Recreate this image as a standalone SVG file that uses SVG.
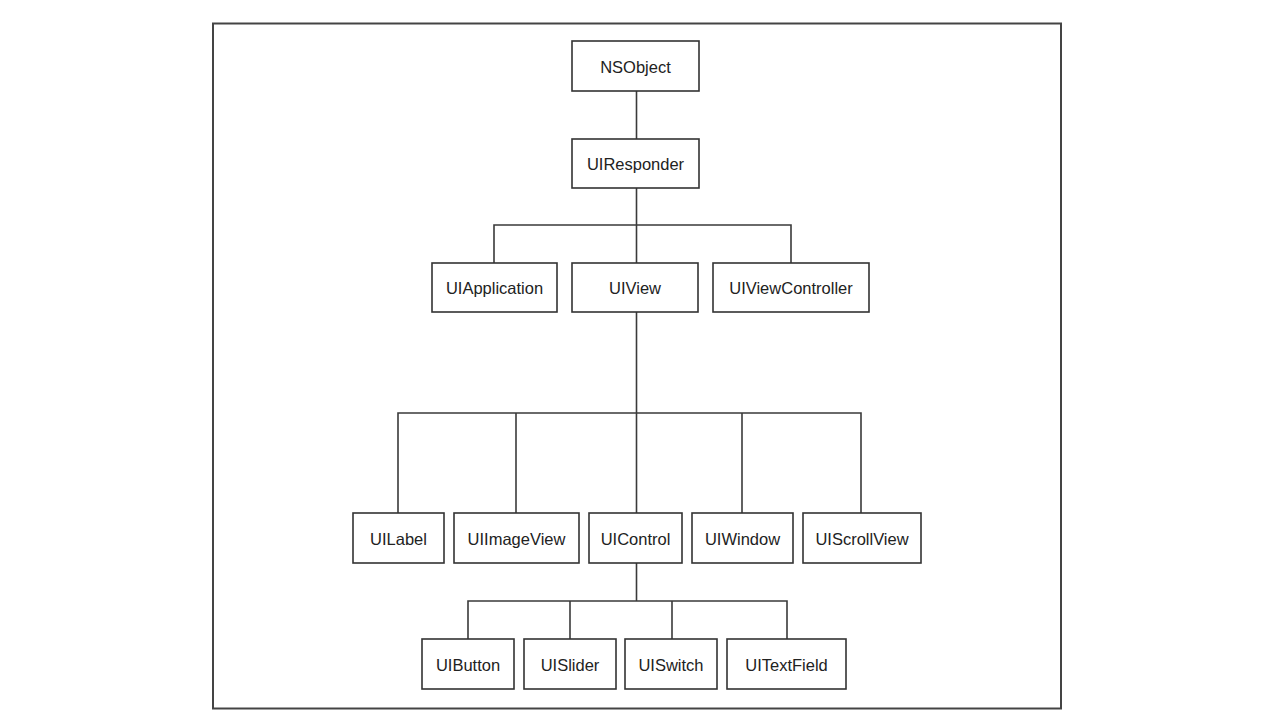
<svg xmlns="http://www.w3.org/2000/svg" width="1279" height="717" viewBox="0 0 1279 717">
<style>
.box{fill:#fff;stroke:#333;stroke-width:1.6}
.lbl{font-family:"Liberation Sans",Arial,Helvetica,sans-serif;font-size:16.5px;fill:#222;text-anchor:middle;dominant-baseline:central}
.con{fill:none;stroke:#3a3a3a;stroke-width:1.6}
</style>
<rect width="1279" height="717" fill="#fff"/>
<rect x="213" y="23.5" width="848" height="685" fill="none" stroke="#444" stroke-width="2"/>
<g id="connectors" class="con">
<line x1="636.5" y1="91" x2="636.5" y2="139"/>
<line x1="636.5" y1="188" x2="636.5" y2="263"/>
<polyline points="494,263 494,225 791,225 791,263"/>
<line x1="636.5" y1="312" x2="636.5" y2="513"/>
<polyline points="398,513 398,413 861,413 861,513"/>
<line x1="516" y1="413" x2="516" y2="513"/>
<line x1="742" y1="413" x2="742" y2="513"/>
<line x1="636.5" y1="563" x2="636.5" y2="601"/>
<polyline points="468,639 468,601 787,601 787,639"/>
<line x1="570" y1="601" x2="570" y2="639"/>
<line x1="672" y1="601" x2="672" y2="639"/>
</g>
<g id="NSObject"><rect class="box" x="572" y="41" width="127" height="50"/><text class="lbl" x="635.5" y="67">NSObject</text></g>
<g id="UIResponder"><rect class="box" x="572" y="139" width="127" height="49"/><text class="lbl" x="635.5" y="164">UIResponder</text></g>
<g id="UIApplication"><rect class="box" x="432" y="263" width="125" height="49"/><text class="lbl" x="494.5" y="288">UIApplication</text></g>
<g id="UIView"><rect class="box" x="572" y="263" width="126" height="49"/><text class="lbl" x="635" y="288">UIView</text></g>
<g id="UIViewController"><rect class="box" x="713" y="263" width="156" height="49"/><text class="lbl" x="791" y="288">UIViewController</text></g>
<g id="UILabel"><rect class="box" x="353" y="513" width="91" height="50"/><text class="lbl" x="398.5" y="539">UILabel</text></g>
<g id="UIImageView"><rect class="box" x="454" y="513" width="125" height="50"/><text class="lbl" x="516.5" y="539">UIImageView</text></g>
<g id="UIControl"><rect class="box" x="589" y="513" width="93" height="50"/><text class="lbl" x="635.5" y="539">UIControl</text></g>
<g id="UIWindow"><rect class="box" x="692" y="513" width="101" height="50"/><text class="lbl" x="742.5" y="539">UIWindow</text></g>
<g id="UIScrollView"><rect class="box" x="803" y="513" width="118" height="50"/><text class="lbl" x="862" y="539">UIScrollView</text></g>
<g id="UIButton"><rect class="box" x="422" y="639" width="92" height="50"/><text class="lbl" x="468" y="665">UIButton</text></g>
<g id="UISlider"><rect class="box" x="524" y="639" width="92" height="50"/><text class="lbl" x="570" y="665">UISlider</text></g>
<g id="UISwitch"><rect class="box" x="625" y="639" width="92" height="50"/><text class="lbl" x="671" y="665">UISwitch</text></g>
<g id="UITextField"><rect class="box" x="727" y="639" width="119" height="50"/><text class="lbl" x="786.5" y="665">UITextField</text></g>
</svg>
